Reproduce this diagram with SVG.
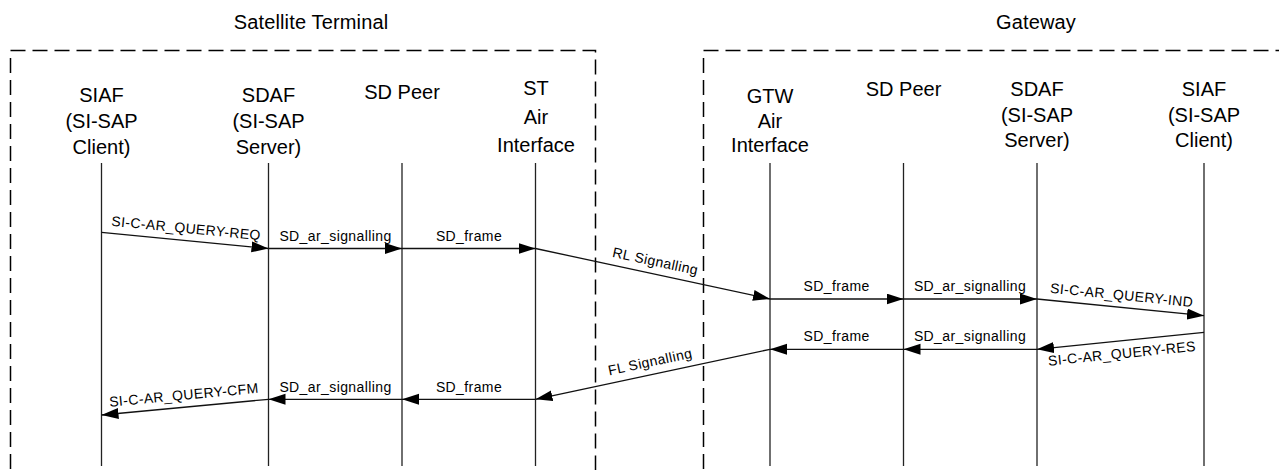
<svg xmlns="http://www.w3.org/2000/svg" width="1279" height="470" viewBox="0 0 1279 470">
  <style>
    .title { font-family: "Liberation Sans", Arial, sans-serif; font-size: 20px; fill: #000; text-anchor: middle; letter-spacing: 0.15px; }
    .head { font-family: "Liberation Sans", Arial, sans-serif; font-size: 20px; fill: #000; text-anchor: middle; }
    .msg { font-family: "Liberation Sans", Arial, sans-serif; font-size: 14px; fill: #000; text-anchor: middle; letter-spacing: 0.4px; }
    .life { stroke: #222; stroke-width: 1.3; fill: none; }
    .zone { stroke: #000; stroke-width: 1.5; fill: none; stroke-dasharray: 15 7; }
    .arrow { stroke: #111; stroke-width: 1.3; fill: none; marker-end: url(#head); }
  </style>
  <defs>
    <marker id="head" markerUnits="userSpaceOnUse" markerWidth="18" markerHeight="12" refX="17" refY="5.5" orient="auto">
      <path d="M0,0 L17,5.5 L0,11 Z" fill="#000"/>
    </marker>
  </defs>
  <rect width="1279" height="470" fill="#fff"/>

  <!-- domains -->
  <g id="satellite-terminal">
    <path class="zone" d="M10.5,50.5 H595.5 V470"/>
    <path class="zone" d="M10.5,58 V470"/>
    <text class="title" x="311" y="29">Satellite Terminal</text>
  </g>
  <g id="gateway">
    <path class="zone" d="M703.5,58 V470"/>
    <path class="zone" d="M703.5,50.5 H1279"/>
    <text class="title" x="1036" y="29">Gateway</text>
  </g>

  <!-- entities with lifelines -->
  <g id="st-siaf">
    <text class="head" x="101.5" y="102">SIAF</text>
    <text class="head" x="101.5" y="128">(SI-SAP</text>
    <text class="head" x="101.5" y="154">Client)</text>
    <line class="life" x1="101.5" y1="163" x2="101.5" y2="466"/>
  </g>
  <g id="st-sdaf">
    <text class="head" x="268.5" y="102">SDAF</text>
    <text class="head" x="268.5" y="128">(SI-SAP</text>
    <text class="head" x="268.5" y="154">Server)</text>
    <line class="life" x1="268.5" y1="163" x2="268.5" y2="466"/>
  </g>
  <g id="st-sd-peer">
    <text class="head" x="402" y="99">SD Peer</text>
    <line class="life" x1="402" y1="163" x2="402" y2="466"/>
  </g>
  <g id="st-air">
    <text class="head" x="536" y="95">ST</text>
    <text class="head" x="536" y="124">Air</text>
    <text class="head" x="536" y="152">Interface</text>
    <line class="life" x1="535.5" y1="163" x2="535.5" y2="466"/>
  </g>
  <g id="gtw-air">
    <text class="head" x="770" y="103">GTW</text>
    <text class="head" x="770" y="128">Air</text>
    <text class="head" x="770" y="152">Interface</text>
    <line class="life" x1="770" y1="163" x2="770" y2="466"/>
  </g>
  <g id="gtw-sd-peer">
    <text class="head" x="903.5" y="96">SD Peer</text>
    <line class="life" x1="903.5" y1="163" x2="903.5" y2="466"/>
  </g>
  <g id="gtw-sdaf">
    <text class="head" x="1037" y="96">SDAF</text>
    <text class="head" x="1037" y="121.5">(SI-SAP</text>
    <text class="head" x="1037" y="147">Server)</text>
    <line class="life" x1="1037" y1="163" x2="1037" y2="466"/>
  </g>
  <g id="gtw-siaf">
    <text class="head" x="1204" y="96">SIAF</text>
    <text class="head" x="1204" y="121.5">(SI-SAP</text>
    <text class="head" x="1204" y="147">Client)</text>
    <line class="life" x1="1204" y1="163" x2="1204" y2="466"/>
  </g>

  <!-- message flow -->
  <g id="connectors">
    <!-- query: terminal to gateway -->
    <line class="arrow" x1="101.5" y1="232.3" x2="268.5" y2="248.5"/>
    <text class="msg" transform="translate(185,240.4) rotate(5.54)" y="-7.5">SI-C-AR_QUERY-REQ</text>
    <line class="arrow" x1="268.5" y1="248.5" x2="402" y2="248.5"/>
    <text class="msg" x="335.5" y="240.5">SD_ar_signalling</text>
    <line class="arrow" x1="402" y1="248.5" x2="535.5" y2="248.5"/>
    <text class="msg" x="469" y="240.5">SD_frame</text>
    <line class="arrow" x1="535.5" y1="248.5" x2="770" y2="299"/>
    <text class="msg" transform="translate(652.7,273.7) rotate(12.15)" y="-8">RL Signalling</text>
    <line class="arrow" x1="770" y1="299" x2="903.5" y2="299"/>
    <text class="msg" x="836.7" y="290.5">SD_frame</text>
    <line class="arrow" x1="903.5" y1="299" x2="1037" y2="299"/>
    <text class="msg" x="970" y="290.5">SD_ar_signalling</text>
    <line class="arrow" x1="1037" y1="299" x2="1204" y2="315.7"/>
    <text class="msg" transform="translate(1120.5,307.3) rotate(5.71)" y="-7.5">SI-C-AR_QUERY-IND</text>

    <!-- response: gateway to terminal -->
    <line class="arrow" x1="1204" y1="332.3" x2="1037" y2="349.3"/>
    <text class="msg" transform="translate(1120.5,340.8) rotate(-5.81)" y="17.5">SI-C-AR_QUERY-RES</text>
    <line class="arrow" x1="1037" y1="349.3" x2="903.5" y2="349.3"/>
    <text class="msg" x="970" y="341">SD_ar_signalling</text>
    <line class="arrow" x1="903.5" y1="349.3" x2="770" y2="349.3"/>
    <text class="msg" x="836.7" y="341">SD_frame</text>
    <line class="arrow" x1="770" y1="349.3" x2="535.5" y2="399.3"/>
    <text class="msg" transform="translate(652.7,374.3) rotate(-12.04)" y="-8">FL Signalling</text>
    <line class="arrow" x1="535.5" y1="399.3" x2="402" y2="399.3"/>
    <text class="msg" x="469" y="391.5">SD_frame</text>
    <line class="arrow" x1="402" y1="399.3" x2="268.5" y2="399.3"/>
    <text class="msg" x="335.5" y="391.5">SD_ar_signalling</text>
    <line class="arrow" x1="268.5" y1="399.3" x2="101.5" y2="415"/>
    <text class="msg" transform="translate(185,407.2) rotate(-5.37)" y="-7.5">SI-C-AR_QUERY-CFM</text>
  </g>
</svg>
